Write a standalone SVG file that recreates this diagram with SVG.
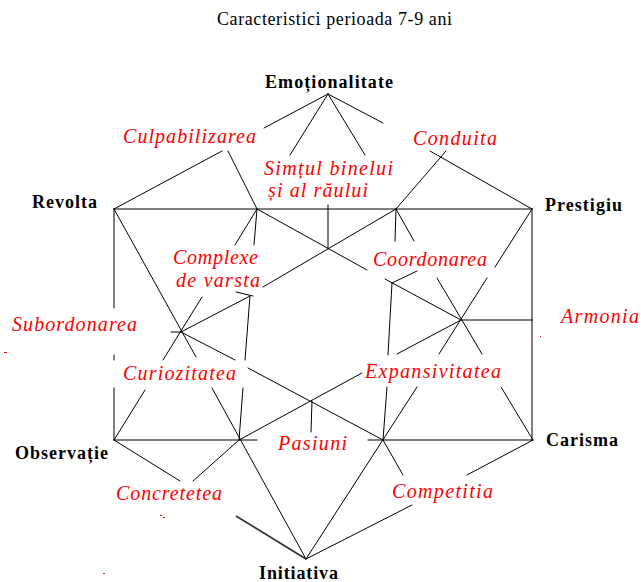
<svg xmlns="http://www.w3.org/2000/svg" width="641" height="582" viewBox="0 0 641 582">
<style>
.bg{fill:#fff}
.ln{stroke:#000;stroke-width:1;fill:none;stroke-linecap:round}
.thick{stroke:#333;stroke-width:1.8;fill:none}
.title{font-family:"Liberation Serif",serif;font-size:18px;fill:#000}
.blk{font-family:"Liberation Serif",serif;font-size:18px;font-weight:bold;fill:#000}
.red{font-family:"Liberation Serif",serif;font-size:20px;font-style:italic;fill:#ff0000}
.dot{fill:#ff0000}
</style>
<rect class="bg" x="0" y="0" width="641" height="582"/>
<text class="title" x="217" y="25" textLength="235">Caracteristici perioada 7-9 ani</text>
<g id="connectors">
<path class="ln" d="M328 94 L264 128 M328 94 L290 155 M328 94 L365 155 M328 94 L383 123"/>
<path class="ln" d="M114 209 L222 151 M228 151 L257 209"/>
<path class="ln" d="M430 151 L532 209 M396 209 L446 151"/>
<path class="ln" d="M114 209 H532"/>
<path class="ln" d="M328 205 V249"/>
<path class="ln" d="M257 209 L367 270 M385 279 L461 320"/>
<path class="ln" d="M396 209 L263 287 M250 296 L181 332"/>
<path class="ln" d="M396 209 L395 241 M392 283 L388 355 M387 387 L383 440"/>
<path class="ln" d="M396 209 L414 241 M437 278 L482 354 M501 387 L533 440"/>
<path class="ln" d="M532 209 L495 267 M487 278 L439 354 M417 387 L306 559"/>
<path class="ln" d="M461 320 H532"/>
<path class="ln" d="M461 320 L397 354 M362 373 L239 440"/>
<path class="ln" d="M181 332 L235 360 M248 368 L383 440"/>
<path class="ln" d="M312 401 L311 432"/>
<path class="ln" d="M114 440 H257 M368 440 H533"/>
<path class="ln" d="M114 209 V308 M114 355 V360 M114 388 V440"/>
<path class="ln" d="M532 209 V440"/>
<path class="ln" d="M114 209 L196 357 M212 388 L306 559"/>
<path class="ln" d="M257 209 L235 245 M202 297 L163 360 M145 390 L114 440"/>
<path class="ln" d="M257 209 L254 245 M250 296 L245 360 M243 388 L239 440"/>
<path class="ln" d="M171 332 H181"/>
<path class="ln" d="M236 292 L253 296"/>
<path class="ln" d="M392 283 L417 271"/>
<path class="ln" d="M114 440 L180 481"/>
<path class="thick" d="M236 516 L306 559"/>
<path class="ln" d="M239 440 L193 481"/>
<path class="ln" d="M383 440 L403 475"/>
<path class="ln" d="M533 440 L467 475 M412 505 L306 559"/>
</g>
<g id="emotionalitate"><text class="blk" x="265" y="88" textLength="128">Emoționalitate</text></g>
<g id="revolta"><text class="blk" x="32" y="208" textLength="65">Revolta</text></g>
<g id="prestigiu"><text class="blk" x="545" y="211" textLength="77">Prestigiu</text></g>
<g id="observatie"><text class="blk" x="15" y="459" textLength="93">Observație</text></g>
<g id="carisma"><text class="blk" x="546" y="446" textLength="72">Carisma</text></g>
<g id="initiativa"><text class="blk" x="259" y="579" textLength="79">Initiativa</text></g>
<g id="culpabilizarea"><text class="red" x="123" y="143" textLength="133">Culpabilizarea</text></g>
<g id="simtul"><text class="red" x="264" y="175" textLength="129">Simțul binelui</text><text class="red" x="268" y="197" textLength="100">și al răului</text></g>
<g id="conduita"><text class="red" x="413" y="145" textLength="84">Conduita</text></g>
<g id="complexe"><text class="red" x="173" y="264" textLength="85">Complexe</text><text class="red" x="176" y="287" textLength="84">de varsta</text></g>
<g id="coordonarea"><text class="red" x="373" y="266" textLength="114">Coordonarea</text></g>
<g id="subordonarea"><text class="red" x="12" y="331" textLength="125">Subordonarea</text></g>
<g id="armonia"><text class="red" x="561" y="323" textLength="78">Armonia</text></g>
<g id="curiozitatea"><text class="red" x="123" y="380" textLength="113">Curiozitatea</text></g>
<g id="expansivitatea"><text class="red" x="365" y="378" textLength="136">Expansivitatea</text></g>
<g id="pasiuni"><text class="red" x="278" y="450" textLength="69">Pasiuni</text></g>
<g id="concretetea"><text class="red" x="116" y="500" textLength="106">Concretetea</text></g>
<g id="competitia"><text class="red" x="392" y="498" textLength="101">Competitia</text></g>
<g id="marks">
<rect class="dot" x="4" y="352" width="3" height="1"/>
<rect class="dot" x="540" y="336" width="1" height="1"/>
<rect class="dot" x="160" y="515" width="2" height="1"/>
<rect class="dot" x="163" y="517" width="2" height="1"/>
<rect class="dot" x="103" y="573" width="2" height="1"/>
</g>
</svg>
